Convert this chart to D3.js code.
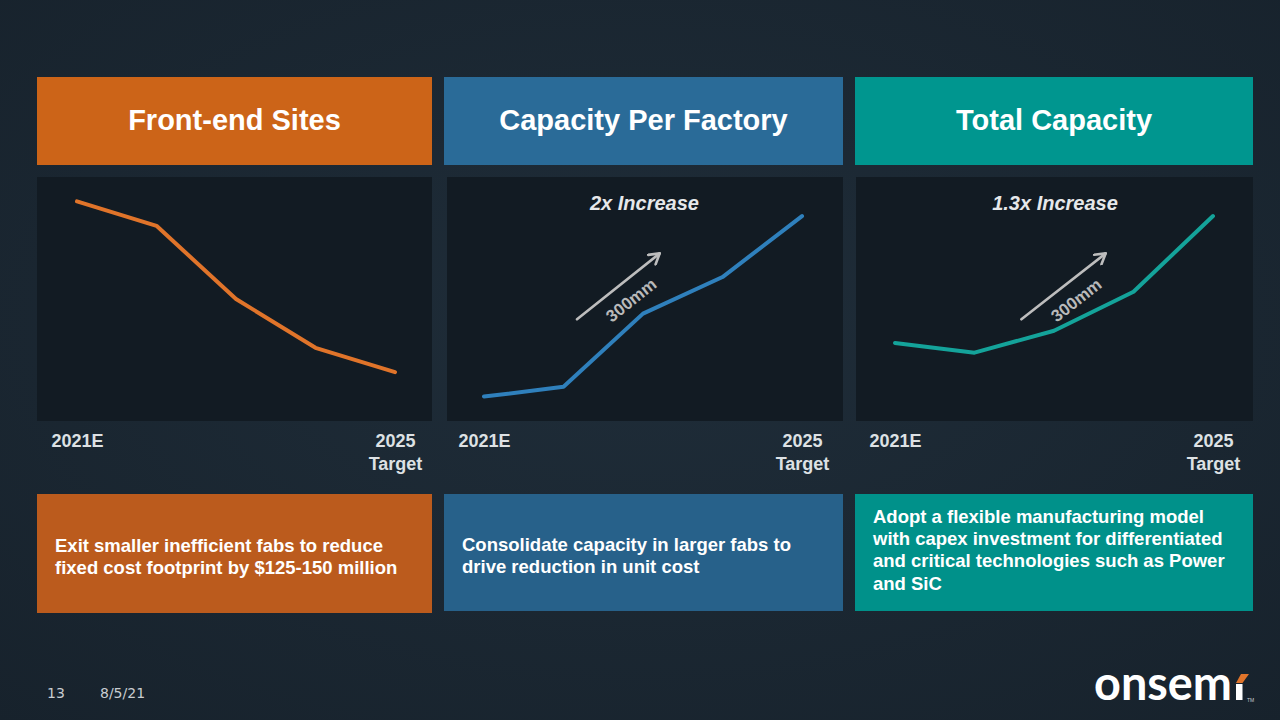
<!DOCTYPE html>
<meta charset="utf-8">
<title>Manufacturing footprint</title>
<style>
  html, body { margin: 0; padding: 0; background: #1a2631; }
  svg { display: block; font-family: "Liberation Sans", Arial, sans-serif; }
</style>
<body>
<div id="slide"></div>
<script src="https://d3js.org/d3.v7.min.js"></script>
<script>

// data
var categories = ["2021", "2022", "2023", "2024", "2025"];
var frontEndSites = [90, 80, 50, 30, 20];
var capacityPerFactory = [10, 14, 44, 59, 84];
var totalCapacity = [32, 28, 37, 53, 84];
var startLabel = ["2021E"];
var endLabel = ["2025", "Target"];
var titles = ["Front-end Sites", "Capacity Per Factory", "Total Capacity"];
var callouts = [null, "2x Increase", "1.3x Increase"];
var arrowLabel = "300mm";
var notes = [
  ["Exit smaller inefficient fabs to reduce", "fixed cost footprint by $125-150 million"],
  ["Consolidate capacity in larger fabs to", "drive reduction in unit cost"],
  ["Adopt a flexible manufacturing model", "with capex investment for differentiated",
   "and critical technologies such as Power", "and SiC"]
];

var width = 1280, height = 720;

var panels = [
  {left: 37,  right: 432,  chartLeft: 37,  head: "#cc6418", foot: "#bb5b1d", line: "#e0742a",
   values: frontEndSites, noteTop: 552, noteBottom: 613, arrow: null},
  {left: 444, right: 843,  chartLeft: 447, head: "#2a6b98", foot: "#27618a", line: "#2f80bc",
   values: capacityPerFactory, noteTop: 551, noteBottom: 611,
   arrow: {x0: 1.17, y0: 41.7, x1: 2.21, y1: 68.7, lx: 1.85, ly: 49.6}},
  {left: 855, right: 1253, chartLeft: 856, head: "#00968f", foot: "#00918a", line: "#14a39a",
   values: totalCapacity, noteTop: 523, noteBottom: 611,
   arrow: {x0: 1.59, y0: 41.7, x1: 2.65, y1: 68.7, lx: 2.28, ly: 49.6}}
];

var svg = d3.select("#slide")
  .append("svg")
    .attr("width", width)
    .attr("height", height);

// background
var defs = svg.append("defs");
var bg = defs.append("radialGradient")
    .attr("id", "bg")
    .attr("cx", "50%").attr("cy", "45%").attr("r", "75%");
bg.append("stop").attr("offset", "0%").attr("stop-color", "#1f2d39");
bg.append("stop").attr("offset", "100%").attr("stop-color", "#17222c");
svg.append("rect")
    .attr("width", width).attr("height", height)
    .attr("fill", "url(#bg)");

defs.append("marker")
    .attr("id", "head")
    .attr("markerUnits", "userSpaceOnUse")
    .attr("viewBox", "0 0 14 14")
    .attr("refX", 12).attr("refY", 7)
    .attr("markerWidth", 14).attr("markerHeight", 14)
    .attr("orient", "auto")
  .append("path")
    .attr("d", "M2,1 L12,7 L2,13")
    .attr("fill", "none")
    .attr("stroke", "#bdbdbd")
    .attr("stroke-width", 2.6)
    .attr("stroke-linecap", "round")
    .attr("stroke-linejoin", "round");

var y = d3.scaleLinear()
  .domain([0, 100])
  .range([421, 177]);

panels.forEach(function (p, i) {
  var g = svg.append("g");

  // header
  g.append("rect")
    .attr("x", p.left).attr("y", 77)
    .attr("width", p.right - p.left).attr("height", 88)
    .attr("fill", p.head);
  g.append("text")
    .attr("x", (p.left + p.right) / 2).attr("y", 130)
    .attr("text-anchor", "middle")
    .attr("fill", "#ffffff")
    .style("font-size", "29px").style("font-weight", "bold")
    .text(titles[i]);

  // chart area
  g.append("rect")
    .attr("x", p.chartLeft).attr("y", 177)
    .attr("width", p.right - p.chartLeft).attr("height", 244)
    .attr("fill", "#121b23");

  var x = d3.scalePoint()
    .domain(categories)
    .range([p.left + 40, p.left + 358]);
  var xi = d3.scaleLinear()
    .domain([0, categories.length - 1])
    .range(x.range());

  // x axis, only first and last label
  var axis = g.append("g")
    .attr("transform", "translate(0,421)")
    .call(d3.axisBottom(x)
      .tickValues([categories[0], categories[categories.length - 1]])
      .tickSize(0)
      .tickPadding(13));
  axis.select(".domain").remove();
  axis.selectAll("text")
    .attr("fill", "#dde1e4")
    .style("font-size", "18px").style("font-weight", "bold")
    .style("font-family", "'Liberation Sans', Arial, sans-serif")
    .each(function (d, k) {
      var t = d3.select(this).text(null);
      var lines = k === 0 ? startLabel : endLabel;
      lines.forEach(function (s, j) {
        t.append("tspan")
          .attr("x", 0)
          .attr("dy", j === 0 ? "0.71em" : "1.28em")
          .text(s);
      });
    });

  // line
  var line = d3.line()
    .x(function (d, k) { return x(categories[k]); })
    .y(function (d) { return y(d); });
  g.append("path")
    .datum(p.values)
    .attr("d", line)
    .attr("fill", "none")
    .attr("stroke", p.line)
    .attr("stroke-width", 4)
    .attr("stroke-linecap", "round")
    .attr("stroke-linejoin", "round");

  // callout
  if (callouts[i]) {
    g.append("text")
      .attr("x", (p.left + p.right) / 2 + 1).attr("y", 210)
      .attr("text-anchor", "middle")
      .attr("fill", "#e6e8ea")
      .style("font-size", "20px").style("font-weight", "bold").style("font-style", "italic")
      .text(callouts[i]);
  }

  // 300mm arrow
  if (p.arrow) {
    var a = p.arrow;
    var ax0 = xi(a.x0), ay0 = y(a.y0), ax1 = xi(a.x1), ay1 = y(a.y1);
    var angle = Math.atan2(ay1 - ay0, ax1 - ax0) * 180 / Math.PI;
    g.append("line")
      .attr("x1", ax0).attr("y1", ay0)
      .attr("x2", ax1).attr("y2", ay1)
      .attr("stroke", "#bdbdbd")
      .attr("stroke-width", 2.6)
      .attr("stroke-linecap", "round")
      .attr("marker-end", "url(#head)");
    g.append("text")
      .attr("transform", "translate(" + xi(a.lx) + "," + y(a.ly) + ") rotate(" + angle + ")")
      .attr("text-anchor", "middle")
      .attr("dy", "0.35em")
      .attr("fill", "#b9b9b9")
      .style("font-size", "17px").style("font-weight", "bold")
      .text(arrowLabel);
  }

  // note box
  g.append("rect")
    .attr("x", p.left).attr("y", 494)
    .attr("width", p.right - p.left).attr("height", p.noteBottom - 494)
    .attr("fill", p.foot);
  var nt = g.append("text")
    .attr("fill", "#ffffff")
    .style("font-size", "18.5px").style("font-weight", "bold");
  notes[i].forEach(function (s, j) {
    nt.append("tspan")
      .attr("x", p.left + 18)
      .attr("y", p.noteTop + j * 22.2)
      .text(s);
  });
});

// footer
svg.append("text")
  .attr("x", 47).attr("y", 698)
  .attr("fill", "#c9cdd1")
  .style("font-size", "14px")
  .style("font-family", "'DejaVu Sans', sans-serif")
  .text("13");
svg.append("text")
  .attr("x", 100).attr("y", 698)
  .attr("fill", "#c9cdd1")
  .style("font-size", "14px")
  .style("font-family", "'DejaVu Sans', sans-serif")
  .text("8/5/21");

// logo
var logo = svg.append("g");
logo.append("text")
  .attr("x", 1094).attr("y", 700)
  .attr("fill", "#ffffff")
  .attr("textLength", 138)
  .attr("lengthAdjust", "spacingAndGlyphs")
  .style("font-size", "48px").style("font-weight", "bold")
  .style("font-family", "Lato, 'Open Sans', sans-serif")
  .text("onsem");
logo.append("rect")
  .attr("x", 1236).attr("y", 684)
  .attr("width", 6.5).attr("height", 16)
  .attr("fill", "#ffffff");
logo.append("path")
  .attr("d", "M1236,683 L1242.5,683 L1249,674 L1241,674 Z")
  .attr("fill", "#e0742a");
logo.append("text")
  .attr("x", 1247).attr("y", 702)
  .attr("fill", "#c9cdd1")
  .style("font-size", "5px")
  .text("TM");

</script>
</body>
